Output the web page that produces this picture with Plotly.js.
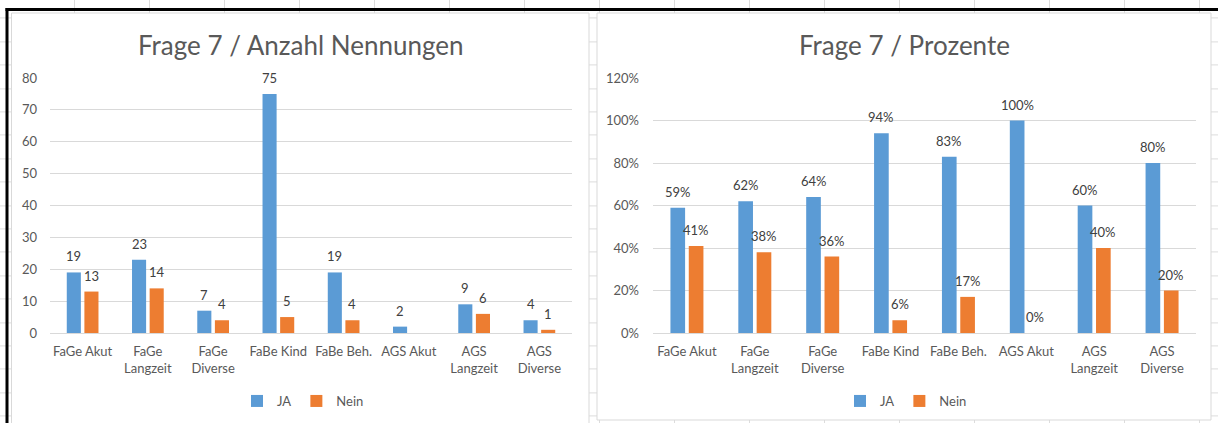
<!DOCTYPE html>
<html>
<head>
<meta charset="utf-8">
<script src="https://cdn.plot.ly/plotly-3.0.1.min.js"></script>
<style>
html,body{margin:0;padding:0;}
body{width:1218px;height:423px;overflow:hidden;background-color:#fff;
background-image:
 repeating-linear-gradient(to bottom, transparent 0px, transparent 22.4px, #dcdcdc 22.4px, #dcdcdc 23.4px),
 repeating-linear-gradient(to right, transparent 0px, transparent 74px, #dcdcdc 74px, #dcdcdc 75px);
background-position: 0px -4.6px, 0px 0px;}
#chart{width:1218px;height:423px;}
</style>
</head>
<body>
<div id="chart"></div>
<script>
// ---- data ----
const categories = ['FaGe Akut','FaGe Langzeit','FaGe Diverse','FaBe Kind','FaBe Beh.','AGS Akut','AGS Langzeit','AGS Diverse'];
const tickLabels = ['FaGe Akut','FaGe<br>Langzeit','FaGe<br>Diverse','FaBe Kind','FaBe Beh.','AGS Akut','AGS<br>Langzeit','AGS<br>Diverse'];
const countJA   = [19, 23, 7, 75, 19, 2, 9, 4];
const countNein = [13, 14, 4, 5, 4, null, 6, 1];
const pctJA     = [0.59, 0.62, 0.64, 0.94, 0.83, 1.00, 0.60, 0.80];
const pctNein   = [0.41, 0.38, 0.36, 0.06, 0.17, 0.00, 0.40, 0.20];
const seriesNames = ['JA', 'Nein'];
const titleLeft = 'Frage 7 / Anzahl Nennungen';
const titleRight = 'Frage 7 / Prozente';

// ---- style ----
const W = 1218, H = 423;
const px = x => x / W;
const py = y => 1 - y / H;
const BLUE = '#5B9BD5', ORANGE = '#ED7D31';
const FONT = 'Lato, "Open Sans", "DejaVu Sans", sans-serif';
const GREY = '#595959';
const labelFont = {family: FONT, size: 13, color: '#404040'};
const BARGAP = 0.46, BARGROUPGAP = 0.2;
const leftDom = [50, 572], rightDom = [653, 1196];

const traces = [
  {type:'bar', x:categories, y:countJA, name:seriesNames[0], marker:{color:BLUE},
   xaxis:'x', yaxis:'y', legend:'legend', hoverinfo:'x+y'},
  {type:'bar', x:categories, y:countNein, name:seriesNames[1], marker:{color:ORANGE},
   xaxis:'x', yaxis:'y', legend:'legend', hoverinfo:'x+y'},
  {type:'bar', x:categories, y:pctJA, name:seriesNames[0], marker:{color:BLUE},
   xaxis:'x2', yaxis:'y2', legend:'legend2', hoverinfo:'x+y'},
  {type:'bar', x:categories, y:pctNein, name:seriesNames[1], marker:{color:ORANGE},
   xaxis:'x2', yaxis:'y2', legend:'legend2', hoverinfo:'x+y'}
];

// data labels ("outside end") positioned on the axes' scales
function labels(values, fmt, xref, yref, dom, side) {
  const catW = (dom[1] - dom[0]) / categories.length;
  const slot = catW * (1 - BARGAP) / 2;
  return values.map((v, i) => v === null ? null : {
    text: fmt(v), x: categories[i], y: v, xref: xref, yref: yref,
    xanchor: 'center', yanchor: 'bottom', showarrow: false,
    xshift: side * slot / 2, yshift: 6, font: labelFont
  }).filter(a => a !== null);
}
const fmtN = v => String(v);
const fmtP = v => Math.round(v * 100) + '%';

const tickFont = {family: FONT, size: 13, color: GREY};
const yDom = [py(333), py(78)];

const xBase = {
  type:'category', tickmode:'array', tickvals:categories, ticktext:tickLabels,
  range:[-0.5, 7.5], showline:true, linecolor:'#d9d9d9', linewidth:1,
  showgrid:false, zeroline:false, ticks:'', tickfont:tickFont, ticklabelstandoff:6,
  fixedrange:true
};
const yBase = {
  showline:false, zeroline:false, gridcolor:'#d9d9d9', gridwidth:1, ticks:'',
  tickfont:tickFont, fixedrange:true
};

const annotations = [
  {text:titleLeft, xref:'paper', yref:'paper', x:px(300.5), y:py(45), xanchor:'center', yanchor:'middle',
   showarrow:false, font:{family:FONT, size:26, color:GREY}},
  {text:titleRight, xref:'paper', yref:'paper', x:px(904), y:py(45), xanchor:'center', yanchor:'middle',
   showarrow:false, font:{family:FONT, size:26, color:GREY}}
].concat(
  labels(countJA, fmtN, 'x', 'y', leftDom, -1),
  labels(countNein, fmtN, 'x', 'y', leftDom, 1),
  labels(pctJA, fmtP, 'x2', 'y2', rightDom, -1),
  labels(pctNein, fmtP, 'x2', 'y2', rightDom, 1)
);

const layout = {
  width:W, height:H,
  margin:{l:0, r:0, t:0, b:0, pad:0},
  paper_bgcolor:'rgba(0,0,0,0)', plot_bgcolor:'#ffffff',
  font:{family:FONT, color:GREY},
  barmode:'group', bargap:BARGAP, bargroupgap:BARGROUPGAP,
  xaxis:Object.assign({}, xBase, {domain:[px(leftDom[0]), px(leftDom[1])], anchor:'y'}),
  yaxis:Object.assign({}, yBase, {domain:yDom, anchor:'x', range:[0, 80], dtick:10, ticklabelstandoff:12}),
  xaxis2:Object.assign({}, xBase, {domain:[px(rightDom[0]), px(rightDom[1])], anchor:'y2'}),
  yaxis2:Object.assign({}, yBase, {domain:yDom, anchor:'x2', range:[0, 1.2], dtick:0.2, tickformat:'.0%', ticklabelstandoff:13}),
  legend:{orientation:'h', x:px(303), xanchor:'center', y:py(401), yanchor:'middle',
          font:{family:FONT, size:13, color:GREY}, bgcolor:'rgba(0,0,0,0)', itemclick:false, itemdoubleclick:false},
  legend2:{orientation:'h', x:px(906), xanchor:'center', y:py(401), yanchor:'middle',
          font:{family:FONT, size:13, color:GREY}, bgcolor:'rgba(0,0,0,0)', itemclick:false, itemdoubleclick:false},
  annotations: annotations,
  shapes:[
    {type:'rect', xref:'paper', yref:'paper', x0:px(11.5), x1:px(589), y0:py(13), y1:py(440),
     fillcolor:'#ffffff', line:{color:'#d9d9d9', width:1}, layer:'below'},
    {type:'rect', xref:'paper', yref:'paper', x0:px(597), x1:px(1211), y0:py(13), y1:py(420),
     fillcolor:'#ffffff', line:{color:'#d9d9d9', width:1}, layer:'below'},
    {type:'line', xref:'paper', yref:'paper', x0:px(5.5), x1:px(1220), y0:py(9.5), y1:py(9.5),
     line:{color:'#000000', width:3}, layer:'above'},
    {type:'line', xref:'paper', yref:'paper', x0:px(7), x1:px(7), y0:py(8), y1:py(430),
     line:{color:'#000000', width:3}, layer:'above'}
  ]
};

Plotly.newPlot('chart', traces, layout, {displayModeBar:false, staticPlot:true});
</script>
</body>
</html>
